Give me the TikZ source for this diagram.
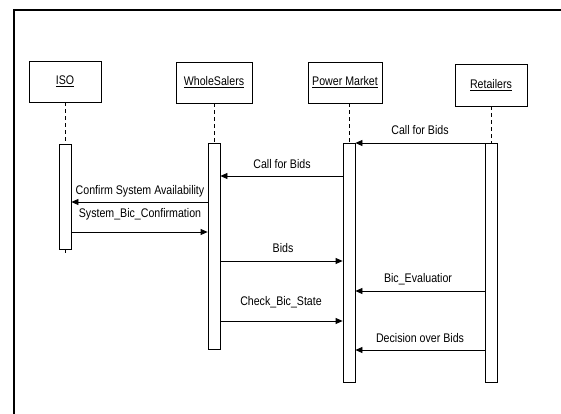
\documentclass[tikz,border=0pt]{standalone}
\usepackage{fontspec}
\setmainfont[FakeStretch=0.85]{Liberation Sans}
\usetikzlibrary{positioning,calc}
\usetikzlibrary{arrows.meta}
\tikzset{actor/.style={draw=black,fill=white,line width=0.8pt,minimum width=74pt,minimum height=41pt,inner sep=0pt,font=\fontsize{12.5}{14}\selectfont}, bar/.style={draw=black,fill=white,line width=0.8pt,minimum width=12pt,inner sep=0pt}, life/.style={dash pattern=on 4pt off 3pt,line width=0.6pt}, msg/.style={-{Triangle[length=7pt,width=6pt]},line width=0.8pt}, txt/.style={font=\fontsize{12.5}{14}\selectfont,inner sep=0pt}}

\begin{document}
\begin{tikzpicture}[x=1pt,y=-1pt]
\useasboundingbox (0,0) rectangle (561,414);
\draw[line width=2pt] (14,414) -- (14,10) -- (561,10);
\coordinate (m1) at (0,143);
\coordinate (m2) at (0,176);
\coordinate (m3) at (0,202);
\coordinate (m4) at (0,232);
\coordinate (m5) at (0,261);
\coordinate (m6) at (0,291);
\coordinate (m7) at (0,321);
\coordinate (m8) at (0,350);
\node[actor,minimum width=72pt] (iso) at (65,81.5) {\underline{ISO}};
\node[actor,minimum width=76pt] (whs) at (214,82.5) {\underline{WholeSalers}};
\node[actor] (pmk) at (345,82.5) {\underline{Power Market}};
\node[actor,minimum width=72pt,minimum height=42pt] (ret) at (491,85) {\underline{Retailers}};
\draw[life] (iso.south) -- (65,253);
\draw[life] (whs.south) -- (214,150);
\draw[life] (349,103.5) -- (349,150);
\draw[life] (ret.south) -- (491,150);
\node[bar,minimum height=105pt] (isoBar) at (65,196.5) {};
\node[bar,minimum height=206pt] (whsBar) at (214,246) {};
\node[bar,minimum height=239pt] (pmkBar) at (349,262.5) {};
\node[bar,minimum height=239pt] (retBar) at (491,262.5) {};
\draw[msg] (retBar.west |- m1) -- (pmkBar.east |- m1);
\draw[msg] (pmkBar.west |- m2) -- (whsBar.east |- m2);
\draw[msg] (whsBar.west |- m3) -- (isoBar.east |- m3);
\draw[msg] (isoBar.east |- m4) -- (whsBar.west |- m4);
\draw[msg] (whsBar.east |- m5) -- (pmkBar.west |- m5);
\draw[msg] (retBar.west |- m6) -- (pmkBar.east |- m6);
\draw[msg] (whsBar.east |- m7) -- (pmkBar.west |- m7);
\draw[msg] (retBar.west |- m8) -- (pmkBar.east |- m8);
\node[txt] (t1) at (420,130) {Call for Bids};
\node[txt] (t2) at (282,164) {Call for Bids};
\node[txt] (t3) at (140,191) {Confirm System Availability};
\node[txt] (t4) at (140,214) {System\_Bic\_Confirmation};
\node[txt] (t5) at (283,248) {Bids};
\node[txt] (t6) at (418,279) {Bic\_Evaluatior};
\node[txt] (t7) at (281,302) {Check\_Bic\_State};
\node[txt] (t8) at (420,338) {Decision over Bids};
\end{tikzpicture}
\end{document}
